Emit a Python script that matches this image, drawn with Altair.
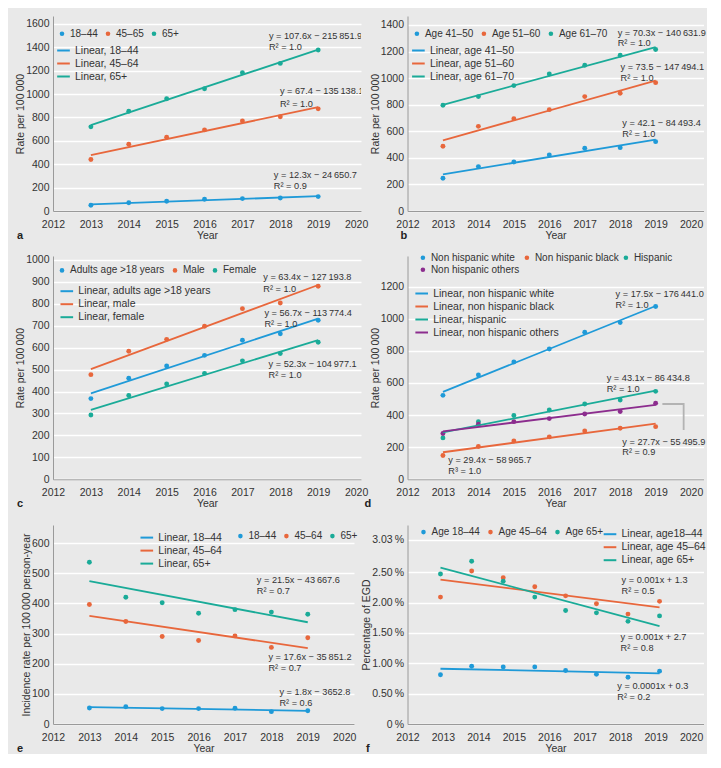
import altair as alt
import pandas as pd

FONT = "Liberation Sans"
BG = "#e9e9e9"
TXT = "#333333"
AXC = "#9a9a9a"
BLUE, ORANGE, TEAL, PURPLE = "#1f9ad8", "#e8673c", "#1aab98", "#8c2d8e"
TS = "\u2009"  # thin space

years = [2013, 2014, 2015, 2016, 2017, 2018, 2019]

# ---- panel a
a_names = ["18–44", "45–65", "65+"]
a_lines = ["Linear, 18–44", "Linear, 45–64", "Linear, 65+"]
a_18_44 = [49, 71, 83, 100, 106, 111, 123]
a_45_65 = [440, 571, 631, 694, 771, 806, 874]
a_65 = [720, 854, 960, 1046, 1183, 1263, 1377]
a_ann = ["y = 107.6x − 215" + TS + "851.9", "R² = 1.0", "y = 67.4 − 135" + TS + "138.1", "R² = 1.0",
         "y = 12.3x − 24" + TS + "650.7", "R² = 0.9"]
a_ann_x = [2017.70, 2017.70, 2017.99, 2017.99, 2017.83, 2017.83]
a_ann_y = [1497, 1403, 1027, 915, 308, 214]

# ---- panel b
b_names = ["Age 41–50", "Age 51–60", "Age 61–70"]
b_lines = ["Linear, age 41–50", "Linear, age 51–60", "Linear, age 61–70"]
b_41_50 = [246, 334, 369, 422, 472, 477, 522]
b_51_60 = [487, 637, 695, 763, 861, 886, 966]
b_61_70 = [796, 861, 944, 1031, 1097, 1172, 1215]
b_ann = ["y = 70.3x − 140" + TS + "631.9", "R² = 1.0", "y = 73.5 − 147" + TS + "494.1", "R² = 1.0",
         "y = 42.1 − 84" + TS + "493.4", "R² = 1.0"]
b_ann_x = [2017.93, 2017.93, 2018.01, 2018.01, 2018.06, 2018.06]
b_ann_y = [1340, 1262, 1086, 999, 660, 577]

# ---- panel c
c_names = ["Adults age >18 years", "Male", "Female"]
c_lines = ["Linear, adults age >18 years", "Linear, male", "Linear, female"]
c_adults = [368, 461, 517, 565, 634, 663, 725]
c_male = [477, 584, 638, 698, 778, 804, 880]
c_female = [293, 382, 435, 483, 540, 573, 625]
c_ann = ["y = 63.4x − 127" + TS + "193.8", "R² = 1.0", "y = 56.7x − 113" + TS + "774.4", "R² = 1.0",
         "y = 52.3x − 104" + TS + "977.1", "R² = 1.0"]
c_ann_x = [2017.55, 2017.55, 2017.58, 2017.58, 2017.69, 2017.69]
c_ann_y = [921, 868, 757, 708, 526, 476]

# ---- panel d
d_names = ["Non hispanic white", "Non hispanic black", "Hispanic", "Non hispanic others"]
d_lines = ["Linear, non hispanic white", "Linear, non hispanic black", "Linear, hispanic",
           "Linear, non hispanic others"]
d_white = [523, 650, 731, 812, 916, 976, 1076]
d_black = [148, 204, 239, 264, 301, 318, 328]
d_hisp = [258, 359, 397, 432, 469, 494, 548]
d_others = [285, 343, 359, 378, 407, 422, 474]
d_ann = ["y = 17.5x − 176" + TS + "441.0", "R² = 1.0", "y = 43.1x − 86" + TS + "434.8", "R² = 1.0",
         "y = 27.7x − 55" + TS + "495.9", "R² = 0.9", "y = 29.4x − 58" + TS + "965.7", "R³ = 1.0"]
d_ann_x = [2017.87, 2017.87, 2017.62, 2017.62, 2018.06, 2018.06, 2013.15, 2013.15]
d_ann_y = [1152, 1086, 629, 562, 232, 168, 120, 54]
d_bracket_x = [2019.19, 2019.79, 2019.79]
d_bracket_y = [469, 469, 307]

# ---- panel e
e_names = ["18–44", "45–64", "65+"]
e_lines = ["Linear, 18–44", "Linear, 45–64", "Linear, 65+"]
e_18_44 = [53, 57, 51, 51, 52, 41, 44]
e_45_64 = [396, 340, 290, 277, 292, 254, 286]
e_65 = [536, 420, 402, 367, 379, 371, 364]
e_ann = ["y = 21.5x − 43" + TS + "667.6", "R² = 0.7", "y = 17.6x − 35" + TS + "851.2", "R² = 0.7",
         "y = 1.8x − 3652.8", "R² = 0.6"]
e_ann_x = [2017.60, 2017.60, 2017.92, 2017.92, 2018.22, 2018.22]
e_ann_y = [477, 442, 221, 186, 105, 68]

# ---- panel f
f_x = [2012.93, 2013.81, 2014.70, 2015.59, 2016.46, 2017.33, 2018.22, 2019.11]
f_names = ["Age 18–44", "Age 45–64", "Age 65+"]
f_lines = ["Linear, age18–44", "Linear, age 45–64", "Linear, age 65+"]
f_18_44 = [0.81, 0.95, 0.94, 0.94, 0.88, 0.82, 0.77, 0.87]
f_45_64 = [2.09, 2.52, 2.41, 2.26, 2.11, 1.98, 1.81, 2.02]
f_65 = [2.47, 2.68, 2.35, 2.09, 1.87, 1.83, 1.69, 1.78]
f_ann = ["y = 0.001x + 1.3", "R² = 0.5", "y = 0.001x + 2.7", "R² = 0.8",
         "y = 0.0001x + 0.3", "R² = 0.2"]
f_ann_x = [2018.04, 2018.04, 2018.01, 2018.01, 2017.92, 2017.92]
f_ann_y = [2.372, 2.195, 1.426, 1.245, 0.619, 0.438]


def build_df(xs, names, lines, vals_list):
    rows = []
    for n, l, vals in zip(names, lines, vals_list):
        for x, v in zip(xs, vals):
            rows.append({"x": x, "y": v, "series": n, "line": l})
    return pd.DataFrame(rows)


def panel(df, names, lines, colors, xmax, ymax, yvals, ytitle, w, h,
          ann_t, ann_x, ann_y, letter, letter_x, pts_leg, line_leg,
          ylabel_expr=None, extra=None, clip=False):
    xscale = alt.Scale(domain=[2012, xmax], nice=False, zero=False)
    yscale = alt.Scale(domain=[0, ymax], nice=False)
    xaxis = alt.Axis(values=list(range(2012, 2021)), tickCount=30, format="d", title="Year",
                     grid=False, ticks=False, labelPadding=8, titlePadding=1, domainColor=AXC,
                     labelFlush=False, labelOverlap=False, zindex=1)
    ykw = dict(values=yvals, tickCount=40, title=ytitle, grid=True, gridColor="white",
               gridWidth=1.4, ticks=False, labelPadding=4, domainColor=AXC, titlePadding=0,
               labelOverlap=False)
    if ylabel_expr:
        ykw["labelExpr"] = ylabel_expr
    else:
        ykw["format"] = "d"
    yaxis = alt.Axis(**ykw)

    common_leg = dict(title=None, orient="none", padding=0, labelFont=FONT, labelColor=TXT)
    pts_kw = dict(direction="horizontal", symbolType="circle", symbolSize=21, labelOffset=3,
                  columnPadding=5, rowPadding=2, labelFontSize=10)
    pts_kw.update(pts_leg)
    pts = alt.Chart(df).mark_circle(size=24, opacity=1).encode(
        x=alt.X("x:Q", scale=xscale, axis=xaxis),
        y=alt.Y("y:Q", scale=yscale, axis=yaxis),
        color=alt.Color("series:N", scale=alt.Scale(domain=names, range=colors),
                        legend=alt.Legend(**pts_kw, **common_leg)),
    )
    lns = alt.Chart(df).transform_regression(
        "x", "y", groupby=["series", "line"]
    ).mark_line(strokeWidth=1.8).encode(
        x="x:Q", y="y:Q",
        stroke=alt.Stroke("line:N", scale=alt.Scale(domain=lines, range=colors),
                          legend=alt.Legend(direction="vertical", symbolType="stroke",
                                            symbolSize=160, symbolStrokeWidth=2,
                                            labelOffset=4, rowPadding=0, labelFontSize=10.5,
                                            **line_leg, **common_leg)),
    )
    ann = alt.Chart(pd.DataFrame({"x": ann_x, "y": ann_y, "t": ann_t})).mark_text(
        align="left", baseline="middle", fontSize=9.2, font=FONT, color=TXT, clip=clip
    ).encode(x="x:Q", y="y:Q", text="t:N")
    let = alt.Chart(pd.DataFrame({"t": [letter]})).mark_text(
        align="center", baseline="middle", fontSize=11, fontWeight="bold", font=FONT, color="#222"
    ).encode(text="t:N", x=alt.value(letter_x), y=alt.value(h + 25))
    layers = [pts, lns]
    if extra is not None:
        layers.append(extra)
    layers += [ann, let]
    return alt.layer(*layers).properties(width=w, height=h)


LW, RW = 308, 296
LX, RX = 2020.13, 2020.35
H1, H2, H3 = 195, 223.3, 199

pa = panel(build_df(years, a_names, a_lines, [a_18_44, a_45_65, a_65]), a_names, a_lines,
           [BLUE, ORANGE, TEAL], LX, 1668.4, list(range(0, 1601, 200)), "Rate per 100" + TS + "000",
           LW, H1, a_ann, a_ann_x, a_ann_y, "a", -33,
           dict(legendX=4, legendY=12.7), dict(legendX=3, legendY=27), clip=True)

pb = panel(build_df(years, b_names, b_lines, [b_41_50, b_51_60, b_61_70]), b_names, b_lines,
           [BLUE, ORANGE, TEAL], RX, 1467.7, list(range(0, 1401, 200)), "Rate per 100" + TS + "000",
           RW, H1, b_ann, b_ann_x, b_ann_y, "b", -3.6,
           dict(legendX=4.4, legendY=12.7), dict(legendX=3.4, legendY=27))

pc = panel(build_df(years, c_names, c_lines, [c_adults, c_male, c_female]), c_names, c_lines,
           [BLUE, ORANGE, TEAL], LX, 1018, list(range(0, 1001, 100)), "Rate per 100" + TS + "000",
           LW, H2, c_ann, c_ann_x, c_ann_y, "c", -33,
           dict(legendX=4, legendY=9.4), dict(legendX=6.3, legendY=27.7), clip=True)

bracket = alt.Chart(pd.DataFrame({"x": d_bracket_x, "y": d_bracket_y, "o": [0, 1, 2]})).mark_line(
    color="#b3b3b3", strokeWidth=1.8).encode(x="x:Q", y="y:Q", order="o:Q")

pd_ = panel(build_df(years, d_names, d_lines, [d_white, d_black, d_hisp, d_others]), d_names, d_lines,
            [BLUE, ORANGE, TEAL, PURPLE], RX, 1391, list(range(0, 1201, 200)), "Rate per 100" + TS + "000",
            RW, H2, d_ann, d_ann_x, d_ann_y, "d", -39.6,
            dict(legendX=10.4, legendY=-3.3, columns=3, gridAlign="none", columnPadding=2),
            dict(legendX=6.7, legendY=30),
            extra=bracket)

pe = panel(build_df(years, e_names, e_lines, [e_18_44, e_45_64, e_65]), e_names, e_lines,
           [BLUE, ORANGE, TEAL], 2020.27, 659.7, list(range(0, 601, 100)),
           "Incidence rate per 100" + TS + "000 person-year",
           301, H3, e_ann, e_ann_x, e_ann_y, "e", -33,
           dict(legendX=182.4, legendY=6.1), dict(legendX=86.3, legendY=5.1), clip=True)

pf = panel(build_df(f_x, f_names, f_lines, [f_18_44, f_45_64, f_65]), f_names, f_lines,
           [BLUE, ORANGE, TEAL], RX, 3.277, [0, 0.5, 1.0, 1.5, 2.0, 2.5, 3.03], "Percentage of EGD",
           RW, H3, f_ann, f_ann_x, f_ann_y, "f", -39.6,
           dict(legendX=11, legendY=2.1), dict(legendX=195, legendY=1.7),
           ylabel_expr="datum.value == 0 ? '0" + TS + "%' : format(datum.value, '.2f') + '" + TS + "%'")

chart = alt.concat(
    pa, pb, pc, pd_, pe, pf, columns=2, spacing={"row": 45, "column": 46.5},
    bounds="flush", align="each",
).resolve_scale(
    color="independent", stroke="independent", x="independent", y="independent"
).properties(
    padding={"left": 7, "top": 8, "right": 0, "bottom": 0}, background=BG
).configure_view(
    stroke=None, fill=BG
).configure_axis(
    labelFont=FONT, titleFont=FONT, labelFontSize=10.5, titleFontSize=10.5,
    labelColor=TXT, titleColor=TXT, titleFontWeight="normal"
)

chart.save("out.html", embed_options={"renderer": "svg", "actions": False})
